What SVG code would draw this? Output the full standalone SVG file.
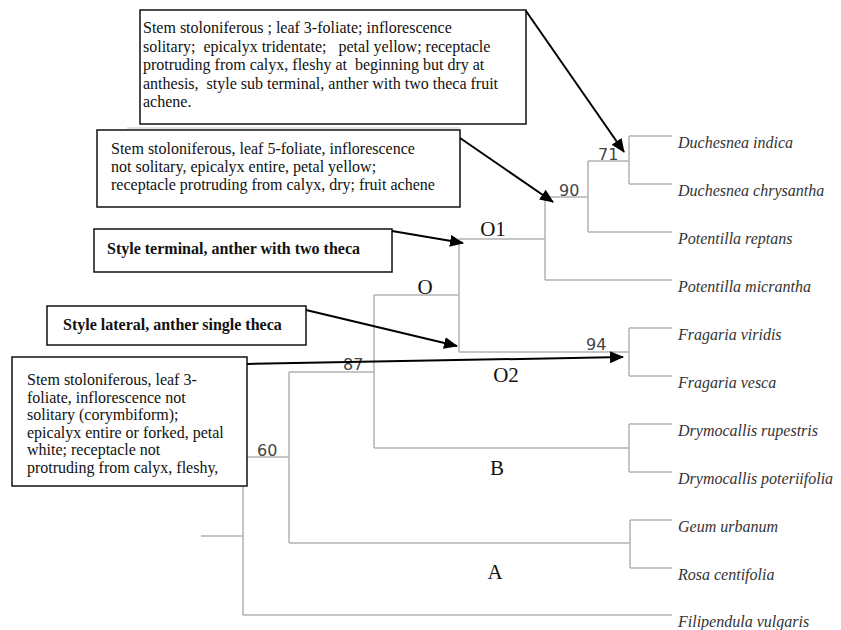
<svg xmlns="http://www.w3.org/2000/svg" width="841" height="630" viewBox="0 0 841 630">
<style>
.tree{stroke:#b3b3b3;stroke-width:1.5;fill:none}
.box{fill:#fff;stroke:#111;stroke-width:1.5}
.bt{font-family:"Liberation Serif","Times New Roman",serif;font-size:16px;fill:#111;white-space:pre}
.bb{font-family:"Liberation Serif","Times New Roman",serif;font-size:16px;font-weight:bold;fill:#111}
.leaf{font-family:"Liberation Serif","Times New Roman",serif;font-size:16px;font-style:italic;fill:#333;white-space:pre}
.num{font-family:"DejaVu Sans",sans-serif;font-size:16px;fill:#444}
.cl{font-family:"Liberation Serif","Times New Roman",serif;font-size:21px;fill:#111;text-anchor:middle}
.arr{stroke:#000;stroke-width:2;fill:none;marker-end:url(#ah)}
</style>
<defs>
<marker id="ah" markerWidth="14" markerHeight="12" refX="13" refY="6" orient="auto" markerUnits="userSpaceOnUse">
<path d="M0,0 L14,6 L0,12 z" fill="#000"/>
</marker>
</defs>
<rect width="841" height="630" fill="#fff"/>
<g id="tree" class="tree">
<path d="M629,136 H672 M629,184 H672 M629,136 V184"/>
<path d="M588,161 H629 M588,232 H672 M588,161 V232"/>
<path d="M545,197 H588 M545,280 H672 M545,197 V280"/>
<path d="M459,239 H545 M459,352 H629 M459,239 V352"/>
<path d="M629,328 H672 M629,376 H672 M629,328 V376"/>
<path d="M374,295 H459 M374,448 H629 M374,295 V448"/>
<path d="M629,424 H672 M629,472 H672 M629,424 V472"/>
<path d="M289,372 H374 M289,543 H630 M289,372 V543"/>
<path d="M630,520 H672 M630,568 H672 M630,520 V568"/>
<path d="M243,457 H289 M243,615 H672 M243,457 V615"/>
<path d="M201,536 H243"/>
</g>
<line x1="127" y1="128" x2="460" y2="128" stroke="#c4c4c4" stroke-width="1"/>
<g id="leaves" class="leaf">
<text x="678" y="148">Duchesnea indica</text>
<text x="678" y="196">Duchesnea chrysantha</text>
<text x="678" y="244">Potentilla  reptans</text>
<text x="678" y="292">Potentilla micrantha</text>
<text x="678" y="340">Fragaria viridis</text>
<text x="678" y="388">Fragaria vesca</text>
<text x="678" y="436">Drymocallis rupestris</text>
<text x="678" y="484">Drymocallis poteriifolia</text>
<text x="678" y="532">Geum urbanum</text>
<text x="678" y="580">Rosa centifolia</text>
<text x="678" y="627">Filipendula vulgaris</text>
</g>
<g id="support" class="num">
<text x="598" y="160">71</text>
<text x="559" y="196">90</text>
<text x="586" y="350">94</text>
<text x="343" y="370">87</text>
<text x="257" y="456">60</text>
</g>
<g id="clades" class="cl">
<text x="493" y="236">O1</text>
<text x="425" y="294">O</text>
<text x="506" y="382">O2</text>
<text x="497" y="475">B</text>
<text x="495" y="579">A</text>
</g>
<g id="box1">
<rect class="box" x="140" y="10" width="386" height="114"/>
<text class="bt" x="143" y="33">Stem stoloniferous ; leaf 3-foliate; inflorescence</text>
<text class="bt" x="143" y="51.5">solitary;  epicalyx tridentate;   petal yellow; receptacle</text>
<text class="bt" x="143" y="70">protruding from calyx, fleshy at  beginning but dry at</text>
<text class="bt" x="143" y="88.5">anthesis,  style sub terminal, anther with two theca fruit</text>
<text class="bt" x="143" y="107">achene.</text>
</g>
<g id="box2">
<rect class="box" x="97" y="130" width="363" height="77"/>
<text class="bt" x="111" y="154">Stem stoloniferous, leaf 5-foliate, inflorescence</text>
<text class="bt" x="111" y="172">not solitary, epicalyx entire, petal yellow;</text>
<text class="bt" x="111" y="190">receptacle protruding from calyx, dry; fruit achene</text>
</g>
<g id="box3">
<rect class="box" x="94" y="229" width="298" height="43"/>
<text class="bb" x="107" y="254">Style terminal, anther with two theca</text>
</g>
<g id="box4">
<rect class="box" x="47" y="306" width="259" height="39"/>
<text class="bb" x="63" y="330">Style lateral, anther single theca</text>
</g>
<g id="box5">
<rect class="box" x="12" y="357" width="235" height="129"/>
<text class="bt" x="27" y="385">Stem stoloniferous, leaf 3-</text>
<text class="bt" x="27" y="402.6">foliate, inflorescence not</text>
<text class="bt" x="27" y="420.2">solitary (corymbiform);</text>
<text class="bt" x="27" y="437.8">epicalyx entire or forked, petal</text>
<text class="bt" x="27" y="455.4">white; receptacle not</text>
<text class="bt" x="27" y="473">protruding from calyx, fleshy,</text>
</g>
<g id="connectors">
<line class="arr" x1="526" y1="11" x2="624" y2="152"/>
<line class="arr" x1="460" y1="138" x2="553" y2="202"/>
<line class="arr" x1="392" y1="231" x2="463" y2="243"/>
<line class="arr" x1="306" y1="310" x2="457" y2="346"/>
<line class="arr" x1="247" y1="364" x2="623" y2="357"/>
</g>
</svg>
